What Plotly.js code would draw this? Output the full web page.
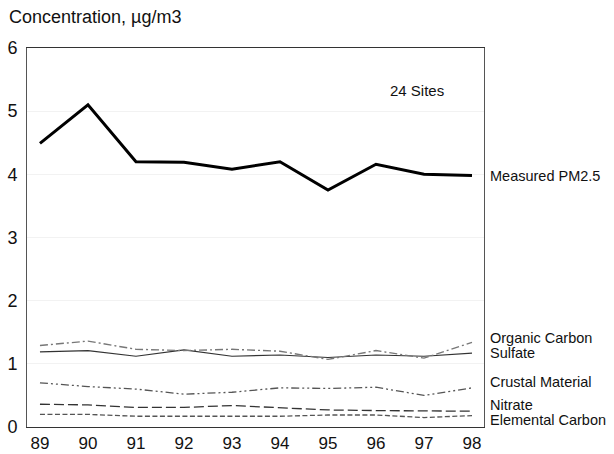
<!DOCTYPE html>
<html>
<head>
<meta charset="utf-8">
<script src="https://cdn.plot.ly/plotly-3.0.1.min.js"></script>
<style>html,body{margin:0;padding:0;background:#fff;}#chart{width:614px;height:454px;}</style>
</head>
<body>
<div id="chart"></div>
<script>
const years = [89, 90, 91, 92, 93, 94, 95, 96, 97, 98];
const tickLabels = ["89", "90", "91", "92", "93", "94", "95", "96", "97", "98"];
const measuredPM25 = [4.49, 5.10, 4.20, 4.19, 4.08, 4.20, 3.75, 4.16, 4.00, 3.98];
const organicCarbon = [1.29, 1.36, 1.23, 1.21, 1.23, 1.20, 1.07, 1.21, 1.09, 1.34];
const sulfate = [1.19, 1.21, 1.12, 1.22, 1.12, 1.14, 1.10, 1.14, 1.12, 1.17];
const crustalMaterial = [0.70, 0.64, 0.60, 0.52, 0.55, 0.62, 0.61, 0.63, 0.50, 0.62];
const nitrate = [0.36, 0.35, 0.31, 0.31, 0.34, 0.31, 0.27, 0.26, 0.25, 0.25];
const elementalCarbon = [0.20, 0.20, 0.17, 0.17, 0.17, 0.17, 0.19, 0.19, 0.15, 0.18];
const seriesNames = ["Measured PM2.5", "Organic Carbon", "Sulfate", "Crustal Material", "Nitrate", "Elemental Carbon"];

const FONT = "Liberation Sans, Arial, Helvetica, sans-serif";

const traces = [
  {x: years, y: elementalCarbon, name: seriesNames[5], mode: "lines",
   line: {color: "#555", width: 1.3, dash: "5px,2.5px"}},
  {x: years, y: nitrate, name: seriesNames[4], mode: "lines",
   line: {color: "#333", width: 1.3, dash: "10px,4px"}},
  {x: years, y: crustalMaterial, name: seriesNames[3], mode: "lines",
   line: {color: "#555", width: 1.3, dash: "8px,3px,2px,3px,2px,3px"}},
  {x: years, y: sulfate, name: seriesNames[2], mode: "lines",
   line: {color: "#333", width: 1.2}},
  {x: years, y: organicCarbon, name: seriesNames[1], mode: "lines",
   line: {color: "#777", width: 1.4, dash: "8px,3px,2px,3px"}},
  {x: years, y: measuredPM25, name: seriesNames[0], mode: "lines",
   line: {color: "#000", width: 3}}
];

const labelY = [3.98, 1.41, 1.17, 0.71, 0.355, 0.115];
const annotations = seriesNames.map((n, i) => ({
  text: n, xref: "paper", yref: "y", x: 1.0095, y: labelY[i],
  xanchor: "left", yanchor: "middle", showarrow: false,
  font: {family: FONT, size: 14.5, color: "#111"}
}));
annotations.push({
  text: "24 Sites", xref: "x", yref: "y", x: 96.85, y: 5.33,
  xanchor: "center", yanchor: "middle", showarrow: false,
  font: {family: FONT, size: 15, color: "#111"}
});
annotations.push({
  text: "Concentration, µg/m3", xref: "paper", yref: "paper", x: -0.044, y: 1.0,
  xanchor: "left", yanchor: "bottom", yshift: 19, showarrow: false,
  font: {family: FONT, size: 18, color: "#111"}
});

const layout = {
  width: 614, height: 454,
  margin: {l: 27, r: 130, t: 48, b: 27, pad: 0},
  paper_bgcolor: "#fff", plot_bgcolor: "#fff",
  showlegend: false,
  font: {family: FONT, color: "#111"},
  xaxis: {
    range: [88.73, 98.25], tickvals: years, ticktext: tickLabels,
    showgrid: false, zeroline: false, showline: true, mirror: true,
    linecolor: "#333", linewidth: 1.2, ticks: "",
    tickfont: {family: FONT, size: 17, color: "#111"}, ticklabelstandoff: 0
  },
  yaxis: {
    range: [0, 6], tickvals: [0, 1, 2, 3, 4, 5, 6],
    showgrid: true, gridcolor: "#f2f2f2", gridwidth: 1,
    zeroline: false, showline: true, mirror: true,
    linecolor: "#555", linewidth: 1, ticks: "",
    tickfont: {family: FONT, size: 18, color: "#111"}, ticklabelstandoff: 5
  },
  annotations: annotations
};

Plotly.newPlot("chart", traces, layout, {displayModeBar: false, staticPlot: true});
</script>
</body>
</html>
